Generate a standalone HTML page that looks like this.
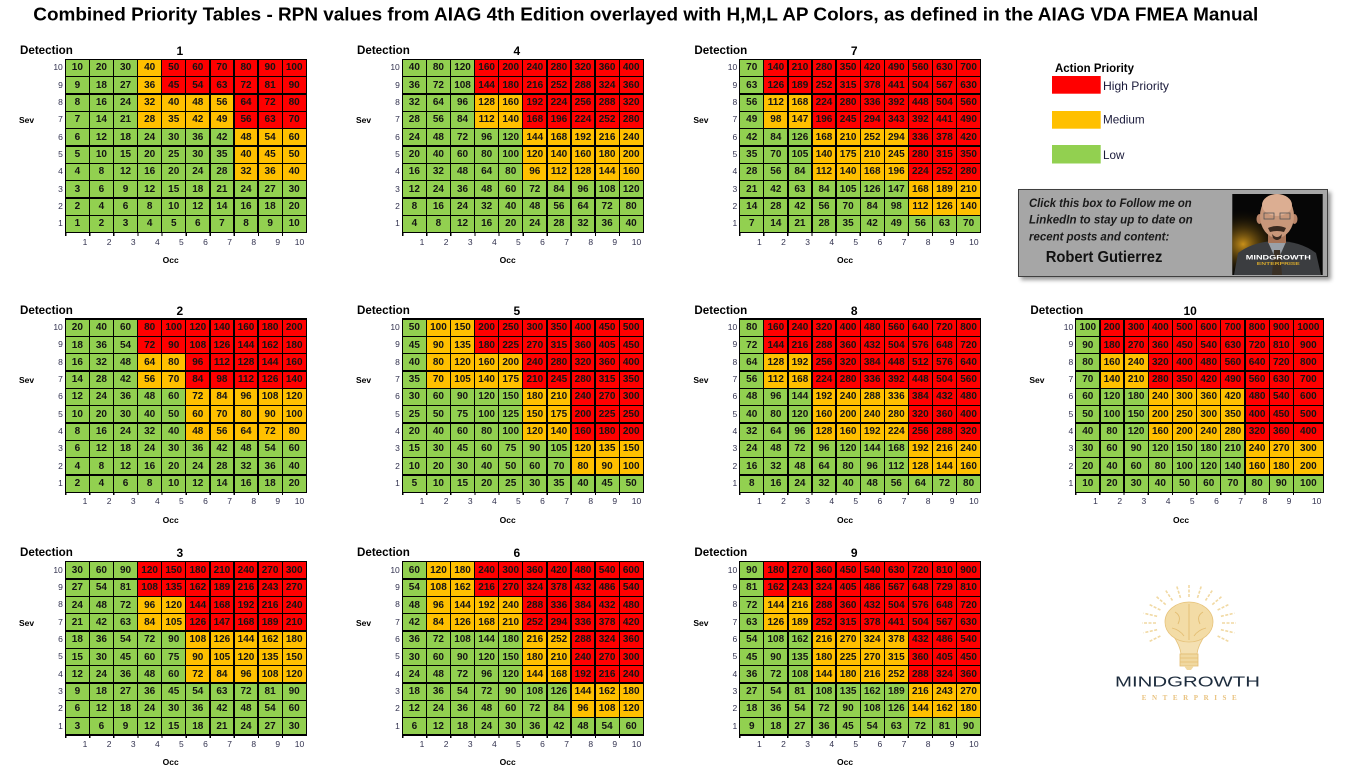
<!DOCTYPE html>
<html><head><meta charset="utf-8"><style>
*{margin:0;padding:0;box-sizing:border-box}
body{width:1355px;height:774px;background:#fff;position:relative;overflow:hidden;font-family:"Liberation Sans",sans-serif}
.T{position:absolute;width:0;height:0}
.T>*{position:absolute;white-space:nowrap}
.g{left:-.65px;top:-.65px;display:grid;grid-template-columns:repeat(10,22.8px);grid-auto-rows:16.04px;gap:1.3px;padding:1.3px;background:#000}
.g b,.g i,.g s{display:flex;align-items:center;justify-content:center;font:bold 10px "Liberation Sans",sans-serif;font-style:normal;text-decoration:none;color:#141414;background:#92d050}
.g i{background:#ffc000}
.g s{background:#ff0000}
.w .g{grid-template-columns:repeat(9,22.9px) 28.7px}
.dt{left:-45.3px;top:-15.3px;font:bold 11.6px/14px "Liberation Sans",sans-serif;color:#000}
.dn{left:94.5px;top:-15.3px;width:40px;text-align:center;font:bold 12px/14px "Liberation Sans",sans-serif;color:#000}
.sv{left:-46.3px;top:56px;font:bold 8.5px/10px "Liberation Sans",sans-serif;color:#000}
.rl{left:-22px;top:0;width:19.5px;text-align:right;font:8.5px "Liberation Sans",sans-serif;color:#333350}
.rl div{height:17.34px;line-height:17.34px}
.ol{left:0;top:177.4px;display:grid;grid-template-columns:repeat(10,24.1px);font:8.5px/10px "Liberation Sans",sans-serif;color:#333350;text-align:right}
.ol div{padding-right:2px}
.w .ol{grid-template-columns:repeat(9,24.2px) 30px}
.tk{left:-.65px;top:173.4px;width:220px;height:3px;background:repeating-linear-gradient(90deg,#000 0 1.3px,transparent 1.3px 24.1px)}
.w .tk{background:repeating-linear-gradient(90deg,#000 0 1.3px,transparent 1.3px 24.2px)}
.oc{left:85.4px;top:195.7px;width:40px;text-align:center;font:bold 8.5px/10px "Liberation Sans",sans-serif;color:#000}
.box{position:absolute;left:1018.3px;top:189.3px;width:310px;height:88px;background:#a6a6a6;border:1.5px solid #3f3f3f;box-shadow:3px 3px 4px rgba(0,0,0,.4)}
</style></head><body>

<!-- D1 -->
<div class="T" style="left:65.3px;top:59.3px">
<div class="dt">Detection</div><div class="dn">1</div><div class="sv">Sev</div>
<div class="rl"><div>10</div><div>9</div><div>8</div><div>7</div><div>6</div><div>5</div><div>4</div><div>3</div><div>2</div><div>1</div></div>
<div class="tk"></div>
<div class="ol"><div>1</div><div>2</div><div>3</div><div>4</div><div>5</div><div>6</div><div>7</div><div>8</div><div>9</div><div>10</div></div>
<div class="oc">Occ</div>
<div class="g">
<b>10</b><b>20</b><b>30</b><i>40</i><s>50</s><s>60</s><s>70</s><s>80</s><s>90</s><s>100</s>
<b>9</b><b>18</b><b>27</b><i>36</i><s>45</s><s>54</s><s>63</s><s>72</s><s>81</s><s>90</s>
<b>8</b><b>16</b><b>24</b><i>32</i><i>40</i><i>48</i><i>56</i><s>64</s><s>72</s><s>80</s>
<b>7</b><b>14</b><b>21</b><i>28</i><i>35</i><i>42</i><i>49</i><s>56</s><s>63</s><s>70</s>
<b>6</b><b>12</b><b>18</b><b>24</b><b>30</b><b>36</b><b>42</b><i>48</i><i>54</i><i>60</i>
<b>5</b><b>10</b><b>15</b><b>20</b><b>25</b><b>30</b><b>35</b><i>40</i><i>45</i><i>50</i>
<b>4</b><b>8</b><b>12</b><b>16</b><b>20</b><b>24</b><b>28</b><i>32</i><i>36</i><i>40</i>
<b>3</b><b>6</b><b>9</b><b>12</b><b>15</b><b>18</b><b>21</b><b>24</b><b>27</b><b>30</b>
<b>2</b><b>4</b><b>6</b><b>8</b><b>10</b><b>12</b><b>14</b><b>16</b><b>18</b><b>20</b>
<b>1</b><b>2</b><b>3</b><b>4</b><b>5</b><b>6</b><b>7</b><b>8</b><b>9</b><b>10</b>
</div></div>

<!-- D4 -->
<div class="T" style="left:402.3px;top:59.3px">
<div class="dt">Detection</div><div class="dn">4</div><div class="sv">Sev</div>
<div class="rl"><div>10</div><div>9</div><div>8</div><div>7</div><div>6</div><div>5</div><div>4</div><div>3</div><div>2</div><div>1</div></div>
<div class="tk"></div>
<div class="ol"><div>1</div><div>2</div><div>3</div><div>4</div><div>5</div><div>6</div><div>7</div><div>8</div><div>9</div><div>10</div></div>
<div class="oc">Occ</div>
<div class="g">
<b>40</b><b>80</b><b>120</b><s>160</s><s>200</s><s>240</s><s>280</s><s>320</s><s>360</s><s>400</s>
<b>36</b><b>72</b><b>108</b><s>144</s><s>180</s><s>216</s><s>252</s><s>288</s><s>324</s><s>360</s>
<b>32</b><b>64</b><b>96</b><i>128</i><i>160</i><s>192</s><s>224</s><s>256</s><s>288</s><s>320</s>
<b>28</b><b>56</b><b>84</b><i>112</i><i>140</i><s>168</s><s>196</s><s>224</s><s>252</s><s>280</s>
<b>24</b><b>48</b><b>72</b><b>96</b><b>120</b><i>144</i><i>168</i><i>192</i><i>216</i><i>240</i>
<b>20</b><b>40</b><b>60</b><b>80</b><b>100</b><i>120</i><i>140</i><i>160</i><i>180</i><i>200</i>
<b>16</b><b>32</b><b>48</b><b>64</b><b>80</b><i>96</i><i>112</i><i>128</i><i>144</i><i>160</i>
<b>12</b><b>24</b><b>36</b><b>48</b><b>60</b><b>72</b><b>84</b><b>96</b><b>108</b><b>120</b>
<b>8</b><b>16</b><b>24</b><b>32</b><b>40</b><b>48</b><b>56</b><b>64</b><b>72</b><b>80</b>
<b>4</b><b>8</b><b>12</b><b>16</b><b>20</b><b>24</b><b>28</b><b>32</b><b>36</b><b>40</b>
</div></div>

<!-- D7 -->
<div class="T" style="left:739.7px;top:59.3px">
<div class="dt">Detection</div><div class="dn">7</div><div class="sv">Sev</div>
<div class="rl"><div>10</div><div>9</div><div>8</div><div>7</div><div>6</div><div>5</div><div>4</div><div>3</div><div>2</div><div>1</div></div>
<div class="tk"></div>
<div class="ol"><div>1</div><div>2</div><div>3</div><div>4</div><div>5</div><div>6</div><div>7</div><div>8</div><div>9</div><div>10</div></div>
<div class="oc">Occ</div>
<div class="g">
<b>70</b><s>140</s><s>210</s><s>280</s><s>350</s><s>420</s><s>490</s><s>560</s><s>630</s><s>700</s>
<b>63</b><s>126</s><s>189</s><s>252</s><s>315</s><s>378</s><s>441</s><s>504</s><s>567</s><s>630</s>
<b>56</b><i>112</i><i>168</i><s>224</s><s>280</s><s>336</s><s>392</s><s>448</s><s>504</s><s>560</s>
<b>49</b><i>98</i><i>147</i><s>196</s><s>245</s><s>294</s><s>343</s><s>392</s><s>441</s><s>490</s>
<b>42</b><b>84</b><b>126</b><i>168</i><i>210</i><i>252</i><i>294</i><s>336</s><s>378</s><s>420</s>
<b>35</b><b>70</b><b>105</b><i>140</i><i>175</i><i>210</i><i>245</i><s>280</s><s>315</s><s>350</s>
<b>28</b><b>56</b><b>84</b><i>112</i><i>140</i><i>168</i><i>196</i><s>224</s><s>252</s><s>280</s>
<b>21</b><b>42</b><b>63</b><b>84</b><b>105</b><b>126</b><b>147</b><i>168</i><i>189</i><i>210</i>
<b>14</b><b>28</b><b>42</b><b>56</b><b>70</b><b>84</b><b>98</b><i>112</i><i>126</i><i>140</i>
<b>7</b><b>14</b><b>21</b><b>28</b><b>35</b><b>42</b><b>49</b><b>56</b><b>63</b><b>70</b>
</div></div>

<!-- D2 -->
<div class="T" style="left:65.3px;top:319px">
<div class="dt">Detection</div><div class="dn">2</div><div class="sv">Sev</div>
<div class="rl"><div>10</div><div>9</div><div>8</div><div>7</div><div>6</div><div>5</div><div>4</div><div>3</div><div>2</div><div>1</div></div>
<div class="tk"></div>
<div class="ol"><div>1</div><div>2</div><div>3</div><div>4</div><div>5</div><div>6</div><div>7</div><div>8</div><div>9</div><div>10</div></div>
<div class="oc">Occ</div>
<div class="g">
<b>20</b><b>40</b><b>60</b><s>80</s><s>100</s><s>120</s><s>140</s><s>160</s><s>180</s><s>200</s>
<b>18</b><b>36</b><b>54</b><s>72</s><s>90</s><s>108</s><s>126</s><s>144</s><s>162</s><s>180</s>
<b>16</b><b>32</b><b>48</b><i>64</i><i>80</i><s>96</s><s>112</s><s>128</s><s>144</s><s>160</s>
<b>14</b><b>28</b><b>42</b><i>56</i><i>70</i><s>84</s><s>98</s><s>112</s><s>126</s><s>140</s>
<b>12</b><b>24</b><b>36</b><b>48</b><b>60</b><i>72</i><i>84</i><i>96</i><i>108</i><i>120</i>
<b>10</b><b>20</b><b>30</b><b>40</b><b>50</b><i>60</i><i>70</i><i>80</i><i>90</i><i>100</i>
<b>8</b><b>16</b><b>24</b><b>32</b><b>40</b><i>48</i><i>56</i><i>64</i><i>72</i><i>80</i>
<b>6</b><b>12</b><b>18</b><b>24</b><b>30</b><b>36</b><b>42</b><b>48</b><b>54</b><b>60</b>
<b>4</b><b>8</b><b>12</b><b>16</b><b>20</b><b>24</b><b>28</b><b>32</b><b>36</b><b>40</b>
<b>2</b><b>4</b><b>6</b><b>8</b><b>10</b><b>12</b><b>14</b><b>16</b><b>18</b><b>20</b>
</div></div>

<!-- D5 -->
<div class="T" style="left:402.3px;top:319px">
<div class="dt">Detection</div><div class="dn">5</div><div class="sv">Sev</div>
<div class="rl"><div>10</div><div>9</div><div>8</div><div>7</div><div>6</div><div>5</div><div>4</div><div>3</div><div>2</div><div>1</div></div>
<div class="tk"></div>
<div class="ol"><div>1</div><div>2</div><div>3</div><div>4</div><div>5</div><div>6</div><div>7</div><div>8</div><div>9</div><div>10</div></div>
<div class="oc">Occ</div>
<div class="g">
<b>50</b><i>100</i><i>150</i><s>200</s><s>250</s><s>300</s><s>350</s><s>400</s><s>450</s><s>500</s>
<b>45</b><i>90</i><i>135</i><s>180</s><s>225</s><s>270</s><s>315</s><s>360</s><s>405</s><s>450</s>
<b>40</b><i>80</i><i>120</i><i>160</i><i>200</i><s>240</s><s>280</s><s>320</s><s>360</s><s>400</s>
<b>35</b><i>70</i><i>105</i><i>140</i><i>175</i><s>210</s><s>245</s><s>280</s><s>315</s><s>350</s>
<b>30</b><b>60</b><b>90</b><b>120</b><b>150</b><i>180</i><i>210</i><s>240</s><s>270</s><s>300</s>
<b>25</b><b>50</b><b>75</b><b>100</b><b>125</b><i>150</i><i>175</i><s>200</s><s>225</s><s>250</s>
<b>20</b><b>40</b><b>60</b><b>80</b><b>100</b><i>120</i><i>140</i><s>160</s><s>180</s><s>200</s>
<b>15</b><b>30</b><b>45</b><b>60</b><b>75</b><b>90</b><b>105</b><i>120</i><i>135</i><i>150</i>
<b>10</b><b>20</b><b>30</b><b>40</b><b>50</b><b>60</b><b>70</b><i>80</i><i>90</i><i>100</i>
<b>5</b><b>10</b><b>15</b><b>20</b><b>25</b><b>30</b><b>35</b><b>40</b><b>45</b><b>50</b>
</div></div>

<!-- D8 -->
<div class="T" style="left:739.7px;top:319px">
<div class="dt">Detection</div><div class="dn">8</div><div class="sv">Sev</div>
<div class="rl"><div>10</div><div>9</div><div>8</div><div>7</div><div>6</div><div>5</div><div>4</div><div>3</div><div>2</div><div>1</div></div>
<div class="tk"></div>
<div class="ol"><div>1</div><div>2</div><div>3</div><div>4</div><div>5</div><div>6</div><div>7</div><div>8</div><div>9</div><div>10</div></div>
<div class="oc">Occ</div>
<div class="g">
<b>80</b><s>160</s><s>240</s><s>320</s><s>400</s><s>480</s><s>560</s><s>640</s><s>720</s><s>800</s>
<b>72</b><s>144</s><s>216</s><s>288</s><s>360</s><s>432</s><s>504</s><s>576</s><s>648</s><s>720</s>
<b>64</b><i>128</i><i>192</i><s>256</s><s>320</s><s>384</s><s>448</s><s>512</s><s>576</s><s>640</s>
<b>56</b><i>112</i><i>168</i><s>224</s><s>280</s><s>336</s><s>392</s><s>448</s><s>504</s><s>560</s>
<b>48</b><b>96</b><b>144</b><i>192</i><i>240</i><i>288</i><i>336</i><s>384</s><s>432</s><s>480</s>
<b>40</b><b>80</b><b>120</b><i>160</i><i>200</i><i>240</i><i>280</i><s>320</s><s>360</s><s>400</s>
<b>32</b><b>64</b><b>96</b><i>128</i><i>160</i><i>192</i><i>224</i><s>256</s><s>288</s><s>320</s>
<b>24</b><b>48</b><b>72</b><b>96</b><b>120</b><b>144</b><b>168</b><i>192</i><i>216</i><i>240</i>
<b>16</b><b>32</b><b>48</b><b>64</b><b>80</b><b>96</b><b>112</b><i>128</i><i>144</i><i>160</i>
<b>8</b><b>16</b><b>24</b><b>32</b><b>40</b><b>48</b><b>56</b><b>64</b><b>72</b><b>80</b>
</div></div>

<!-- D10 -->
<div class="T w" style="left:1075.7px;top:319px">
<div class="dt">Detection</div><div class="dn">10</div><div class="sv">Sev</div>
<div class="rl"><div>10</div><div>9</div><div>8</div><div>7</div><div>6</div><div>5</div><div>4</div><div>3</div><div>2</div><div>1</div></div>
<div class="tk"></div>
<div class="ol"><div>1</div><div>2</div><div>3</div><div>4</div><div>5</div><div>6</div><div>7</div><div>8</div><div>9</div><div>10</div></div>
<div class="oc">Occ</div>
<div class="g">
<b>100</b><s>200</s><s>300</s><s>400</s><s>500</s><s>600</s><s>700</s><s>800</s><s>900</s><s>1000</s>
<b>90</b><s>180</s><s>270</s><s>360</s><s>450</s><s>540</s><s>630</s><s>720</s><s>810</s><s>900</s>
<b>80</b><i>160</i><i>240</i><s>320</s><s>400</s><s>480</s><s>560</s><s>640</s><s>720</s><s>800</s>
<b>70</b><i>140</i><i>210</i><s>280</s><s>350</s><s>420</s><s>490</s><s>560</s><s>630</s><s>700</s>
<b>60</b><b>120</b><b>180</b><i>240</i><i>300</i><i>360</i><i>420</i><s>480</s><s>540</s><s>600</s>
<b>50</b><b>100</b><b>150</b><i>200</i><i>250</i><i>300</i><i>350</i><s>400</s><s>450</s><s>500</s>
<b>40</b><b>80</b><b>120</b><i>160</i><i>200</i><i>240</i><i>280</i><s>320</s><s>360</s><s>400</s>
<b>30</b><b>60</b><b>90</b><b>120</b><b>150</b><b>180</b><b>210</b><i>240</i><i>270</i><i>300</i>
<b>20</b><b>40</b><b>60</b><b>80</b><b>100</b><b>120</b><b>140</b><i>160</i><i>180</i><i>200</i>
<b>10</b><b>20</b><b>30</b><b>40</b><b>50</b><b>60</b><b>70</b><b>80</b><b>90</b><b>100</b>
</div></div>

<!-- D3 -->
<div class="T" style="left:65.3px;top:561.7px">
<div class="dt">Detection</div><div class="dn">3</div><div class="sv">Sev</div>
<div class="rl"><div>10</div><div>9</div><div>8</div><div>7</div><div>6</div><div>5</div><div>4</div><div>3</div><div>2</div><div>1</div></div>
<div class="tk"></div>
<div class="ol"><div>1</div><div>2</div><div>3</div><div>4</div><div>5</div><div>6</div><div>7</div><div>8</div><div>9</div><div>10</div></div>
<div class="oc">Occ</div>
<div class="g">
<b>30</b><b>60</b><b>90</b><s>120</s><s>150</s><s>180</s><s>210</s><s>240</s><s>270</s><s>300</s>
<b>27</b><b>54</b><b>81</b><s>108</s><s>135</s><s>162</s><s>189</s><s>216</s><s>243</s><s>270</s>
<b>24</b><b>48</b><b>72</b><i>96</i><i>120</i><s>144</s><s>168</s><s>192</s><s>216</s><s>240</s>
<b>21</b><b>42</b><b>63</b><i>84</i><i>105</i><s>126</s><s>147</s><s>168</s><s>189</s><s>210</s>
<b>18</b><b>36</b><b>54</b><b>72</b><b>90</b><i>108</i><i>126</i><i>144</i><i>162</i><i>180</i>
<b>15</b><b>30</b><b>45</b><b>60</b><b>75</b><i>90</i><i>105</i><i>120</i><i>135</i><i>150</i>
<b>12</b><b>24</b><b>36</b><b>48</b><b>60</b><i>72</i><i>84</i><i>96</i><i>108</i><i>120</i>
<b>9</b><b>18</b><b>27</b><b>36</b><b>45</b><b>54</b><b>63</b><b>72</b><b>81</b><b>90</b>
<b>6</b><b>12</b><b>18</b><b>24</b><b>30</b><b>36</b><b>42</b><b>48</b><b>54</b><b>60</b>
<b>3</b><b>6</b><b>9</b><b>12</b><b>15</b><b>18</b><b>21</b><b>24</b><b>27</b><b>30</b>
</div></div>

<!-- D6 -->
<div class="T" style="left:402.3px;top:561.7px">
<div class="dt">Detection</div><div class="dn">6</div><div class="sv">Sev</div>
<div class="rl"><div>10</div><div>9</div><div>8</div><div>7</div><div>6</div><div>5</div><div>4</div><div>3</div><div>2</div><div>1</div></div>
<div class="tk"></div>
<div class="ol"><div>1</div><div>2</div><div>3</div><div>4</div><div>5</div><div>6</div><div>7</div><div>8</div><div>9</div><div>10</div></div>
<div class="oc">Occ</div>
<div class="g">
<b>60</b><i>120</i><i>180</i><s>240</s><s>300</s><s>360</s><s>420</s><s>480</s><s>540</s><s>600</s>
<b>54</b><i>108</i><i>162</i><s>216</s><s>270</s><s>324</s><s>378</s><s>432</s><s>486</s><s>540</s>
<b>48</b><i>96</i><i>144</i><i>192</i><i>240</i><s>288</s><s>336</s><s>384</s><s>432</s><s>480</s>
<b>42</b><i>84</i><i>126</i><i>168</i><i>210</i><s>252</s><s>294</s><s>336</s><s>378</s><s>420</s>
<b>36</b><b>72</b><b>108</b><b>144</b><b>180</b><i>216</i><i>252</i><s>288</s><s>324</s><s>360</s>
<b>30</b><b>60</b><b>90</b><b>120</b><b>150</b><i>180</i><i>210</i><s>240</s><s>270</s><s>300</s>
<b>24</b><b>48</b><b>72</b><b>96</b><b>120</b><i>144</i><i>168</i><s>192</s><s>216</s><s>240</s>
<b>18</b><b>36</b><b>54</b><b>72</b><b>90</b><b>108</b><b>126</b><i>144</i><i>162</i><i>180</i>
<b>12</b><b>24</b><b>36</b><b>48</b><b>60</b><b>72</b><b>84</b><i>96</i><i>108</i><i>120</i>
<b>6</b><b>12</b><b>18</b><b>24</b><b>30</b><b>36</b><b>42</b><b>48</b><b>54</b><b>60</b>
</div></div>

<!-- D9 -->
<div class="T" style="left:739.7px;top:561.7px">
<div class="dt">Detection</div><div class="dn">9</div><div class="sv">Sev</div>
<div class="rl"><div>10</div><div>9</div><div>8</div><div>7</div><div>6</div><div>5</div><div>4</div><div>3</div><div>2</div><div>1</div></div>
<div class="tk"></div>
<div class="ol"><div>1</div><div>2</div><div>3</div><div>4</div><div>5</div><div>6</div><div>7</div><div>8</div><div>9</div><div>10</div></div>
<div class="oc">Occ</div>
<div class="g">
<b>90</b><s>180</s><s>270</s><s>360</s><s>450</s><s>540</s><s>630</s><s>720</s><s>810</s><s>900</s>
<b>81</b><s>162</s><s>243</s><s>324</s><s>405</s><s>486</s><s>567</s><s>648</s><s>729</s><s>810</s>
<b>72</b><i>144</i><i>216</i><s>288</s><s>360</s><s>432</s><s>504</s><s>576</s><s>648</s><s>720</s>
<b>63</b><i>126</i><i>189</i><s>252</s><s>315</s><s>378</s><s>441</s><s>504</s><s>567</s><s>630</s>
<b>54</b><b>108</b><b>162</b><i>216</i><i>270</i><i>324</i><i>378</i><s>432</s><s>486</s><s>540</s>
<b>45</b><b>90</b><b>135</b><i>180</i><i>225</i><i>270</i><i>315</i><s>360</s><s>405</s><s>450</s>
<b>36</b><b>72</b><b>108</b><i>144</i><i>180</i><i>216</i><i>252</i><s>288</s><s>324</s><s>360</s>
<b>27</b><b>54</b><b>81</b><b>108</b><b>135</b><b>162</b><b>189</b><i>216</i><i>243</i><i>270</i>
<b>18</b><b>36</b><b>54</b><b>72</b><b>90</b><b>108</b><b>126</b><i>144</i><i>162</i><i>180</i>
<b>9</b><b>18</b><b>27</b><b>36</b><b>45</b><b>54</b><b>63</b><b>72</b><b>81</b><b>90</b>
</div></div>

<div class="box"></div>

<svg width="1355" height="774" style="position:absolute;left:0;top:0" font-family="'Liberation Sans', sans-serif">
<defs>
<radialGradient id="gl" cx="0.12" cy="0.62" r="0.45"><stop offset="0" stop-color="#c8901a"/><stop offset="1" stop-color="#000" stop-opacity="0"/></radialGradient>
</defs>
<text x="33.3" y="20.7" font-size="18.5" font-weight="bold" fill="#000" textLength="1225" lengthAdjust="spacingAndGlyphs">Combined Priority Tables - RPN values from AIAG 4th Edition overlayed with H,M,L AP Colors, as defined in the AIAG VDA FMEA Manual</text>

<text x="1055" y="71.8" font-size="11.5" font-weight="bold" fill="#000" textLength="79" lengthAdjust="spacingAndGlyphs">Action Priority</text>
<rect x="1052" y="76" width="48.7" height="17.7" fill="#ff0000"/>
<rect x="1052" y="111" width="48.7" height="17.7" fill="#ffc000"/>
<rect x="1052" y="145" width="48.7" height="18.5" fill="#92d050"/>
<text x="1103" y="90.2" font-size="11.7" fill="#1a1a3a" textLength="66" lengthAdjust="spacingAndGlyphs">High Priority</text>
<text x="1103" y="123.5" font-size="11.7" fill="#1a1a3a">Medium</text>
<text x="1103" y="159.2" font-size="11.7" fill="#1a1a3a">Low</text>

<text x="1029" y="207" font-size="12.3" font-weight="bold" font-style="italic" fill="#1a1a1a" textLength="162.7" lengthAdjust="spacingAndGlyphs">Click this box to Follow me on</text>
<text x="1029" y="223.6" font-size="12.3" font-weight="bold" font-style="italic" fill="#1a1a1a" textLength="163.7" lengthAdjust="spacingAndGlyphs">LinkedIn to stay up to date on</text>
<text x="1029" y="240.3" font-size="12.3" font-weight="bold" font-style="italic" fill="#1a1a1a" textLength="140.3" lengthAdjust="spacingAndGlyphs">recent posts and content:</text>
<text x="1045.7" y="262.2" font-size="15.5" font-weight="bold" fill="#111" textLength="116.7" lengthAdjust="spacingAndGlyphs">Robert Gutierrez</text>

<!-- photo -->
<rect x="1232.3" y="194" width="90.4" height="81" fill="#060606"/>
<rect x="1232.3" y="194" width="90.4" height="81" fill="url(#gl)"/>
<path d="M1234 275 L1238 253 Q1254 241 1277 241 Q1300 241 1316 253 L1321 275 Z" fill="#3b3d40"/>
<path d="M1268 242 L1277 262 L1286 242 Z" fill="#9aa0a8"/>
<path d="M1274 250 L1280 250 L1282 275 L1272 275Z" fill="#3a3025"/>
<rect x="1268" y="230" width="18" height="13" fill="#a87458"/>
<ellipse cx="1259.5" cy="219" rx="3" ry="5" fill="#b98468"/>
<ellipse cx="1294.5" cy="219" rx="3" ry="5" fill="#b98468"/>
<ellipse cx="1277" cy="216" rx="17" ry="22" fill="#c8977a"/>
<ellipse cx="1277" cy="205" rx="15" ry="11" fill="#dcae92"/>
<rect x="1264" y="213" width="10" height="6" fill="none" stroke="#555" stroke-width="0.8"/>
<rect x="1280" y="213" width="10" height="6" fill="none" stroke="#555" stroke-width="0.8"/>
<path d="M1268 228 Q1277 224 1286 228 L1284 232 Q1277 230 1270 232Z" fill="#3a2a20"/>
<path d="M1272 234 Q1277 240 1282 234 L1281 238 Q1277 242 1273 238Z" fill="#3a2a20"/>
<text x="1278.3" y="259.7" font-size="6.5" font-weight="bold" fill="#fff" text-anchor="middle" textLength="65" lengthAdjust="spacingAndGlyphs">MINDGROWTH</text>
<text x="1278.3" y="264.8" font-size="4.2" font-weight="bold" fill="#d4a72c" text-anchor="middle" textLength="43" lengthAdjust="spacingAndGlyphs">ENTERPRISE</text>

<!-- logo -->
<g stroke="#f1d9a3" stroke-width="1.6" stroke-dasharray="3 1.5">
<line x1="1189" y1="597" x2="1189" y2="585"/>
<line x1="1197.5" y1="597.9" x2="1201.2" y2="586.3"/><line x1="1180.5" y1="597.9" x2="1176.8" y2="586.3"/>
<line x1="1205.5" y1="600.5" x2="1212.5" y2="590.1"/><line x1="1172.5" y1="600.5" x2="1165.5" y2="590.1"/>
<line x1="1212.3" y1="604.6" x2="1222.2" y2="596.1"/><line x1="1165.7" y1="604.6" x2="1155.8" y2="596.1"/>
<line x1="1217.6" y1="610" x2="1229.7" y2="604"/><line x1="1160.4" y1="610" x2="1148.3" y2="604"/>
<line x1="1220.9" y1="616.3" x2="1234.4" y2="613.2"/><line x1="1157.1" y1="616.3" x2="1143.6" y2="613.2"/>
<line x1="1222" y1="623" x2="1236" y2="623"/><line x1="1156" y1="623" x2="1142" y2="623"/>
<line x1="1220.9" y1="629.7" x2="1234.4" y2="632.8"/><line x1="1157.1" y1="629.7" x2="1143.6" y2="632.8"/>
<line x1="1217.6" y1="636" x2="1229.7" y2="642"/><line x1="1160.4" y1="636" x2="1148.3" y2="642"/>
</g>
<path d="M1172 634 Q1180 645 1181 654 L1197 654 Q1198 645 1206 634 Z" fill="#f4e0b2" stroke="#e6c27a" stroke-width="0.8"/>
<ellipse cx="1189" cy="622" rx="24" ry="20" fill="#f3dca6" stroke="#e6c27a" stroke-width="0.8"/>
<path d="M1189 604 L1189 640 M1175 612 Q1182 616 1178 624 M1203 612 Q1196 616 1200 624 M1172 628 Q1180 630 1184 636 M1206 628 Q1198 630 1194 636" stroke="#e3bd72" stroke-width="0.9" fill="none"/>
<rect x="1180" y="654" width="18" height="12" fill="#f0d8a0" stroke="#e3bd72" stroke-width="0.8"/>
<path d="M1180 658 L1198 658 M1180 662 L1198 662" stroke="#e3bd72" stroke-width="0.8"/>
<path d="M1184 666 L1194 666 L1191 670 L1187 670 Z" fill="#f0d8a0"/>
<text x="1115" y="686.3" font-size="14.6" fill="#1c2b3c" textLength="145" lengthAdjust="spacingAndGlyphs">MINDGROWTH</text>
<text x="1141.7" y="700.2" font-size="7" font-weight="bold" font-family="'Liberation Serif', serif" fill="#e9c27e" textLength="95" lengthAdjust="spacing">ENTERPRISE</text>
</svg>
</body></html>
